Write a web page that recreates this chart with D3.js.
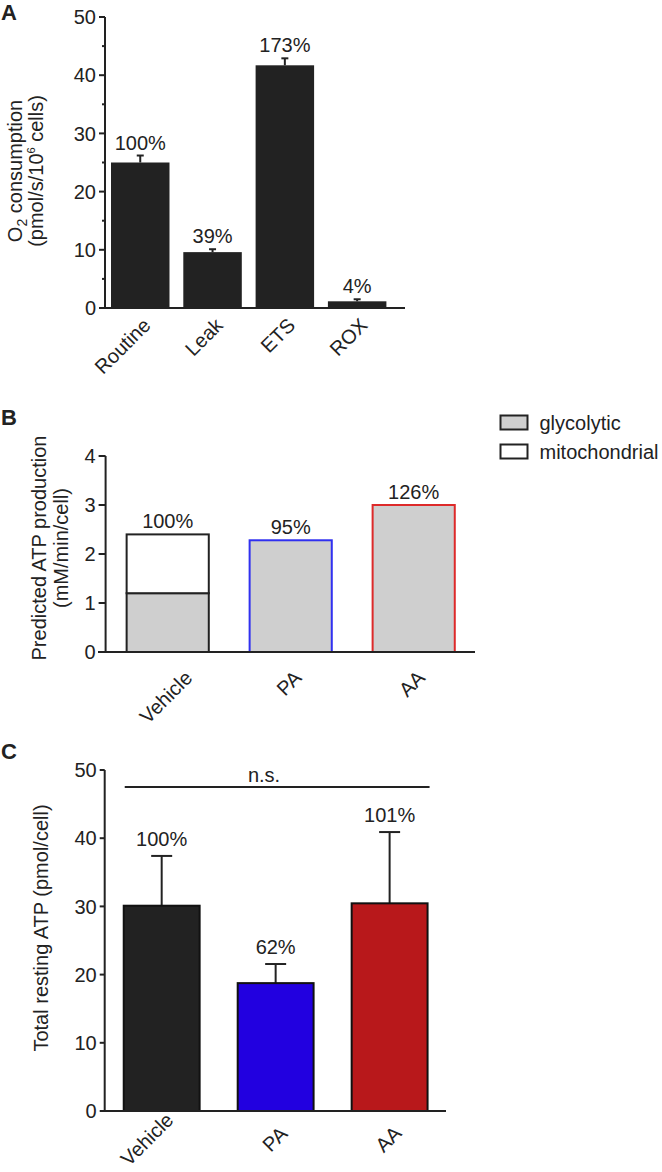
<!DOCTYPE html>
<html>
<head>
<meta charset="utf-8">
<script src="https://cdn.jsdelivr.net/npm/d3@7"></script>
<style>
  html, body { margin: 0; padding: 0; background: #fff; }
  svg { display: block; }
  text { font-family: "Liberation Sans", Arial, Helvetica, sans-serif; fill: #222; }
</style>
</head>
<body>
<svg id="chart" width="662" height="1172"></svg>
<script>
// ---------- Data ----------
// Panel A
const catsA = ["Routine", "Leak", "ETS", "ROX"];
const valsA = [25.0, 9.6, 41.7, 1.15];
const errA  = [1.2, 0.5, 1.2, 0.35];
const pctA  = ["100%", "39%", "173%", "4%"];
const ticksA = [0, 10, 20, 30, 40, 50];

// Panel B
const catsB = ["Vehicle", "PA", "AA"];
const glycoB = [1.2, 2.28, 3.0];
const mitoB  = [1.2, 0, 0];
const pctB   = ["100%", "95%", "126%"];
const strokeB = ["#222222", "#3030f0", "#dd2a2a"];
const ticksB = [0, 1, 2, 3, 4];
const legendB = ["glycolytic", "mitochondrial"];

// Panel C
const catsC = ["Vehicle", "PA", "AA"];
const valsC = [30.1, 18.75, 30.45];
const errC  = [7.3, 2.8, 10.45];
const pctC  = ["100%", "62%", "101%"];
const fillC = ["#222222", "#2200e0", "#b8181b"];
const ticksC = [0, 10, 20, 30, 40, 50];
const sigC = "n.s.";

// ---------- Setup ----------
const svg = d3.select("#chart");
const FS = 20;
const INK = "#222";

function yAxis(g, scale, ticks, minor, tickLen) {
  g.append("line").attr("x1", 0).attr("x2", 0)
    .attr("y1", scale(ticks[0]) + 1).attr("y2", scale(ticks[ticks.length - 1]))
    .attr("stroke", INK).attr("stroke-width", 2);
  ticks.forEach(t => {
    g.append("line").attr("x1", -tickLen).attr("x2", 0)
      .attr("y1", scale(t)).attr("y2", scale(t)).attr("stroke", INK).attr("stroke-width", 2);
    g.append("text").attr("x", -tickLen - 3).attr("y", scale(t)).attr("dy", "0.36em")
      .attr("text-anchor", "end").attr("font-size", FS).text(t);
  });
  (minor || []).forEach(t => {
    g.append("line").attr("x1", -3).attr("x2", 0)
      .attr("y1", scale(t)).attr("y2", scale(t)).attr("stroke", INK).attr("stroke-width", 2);
  });
}

// ---------- Panel A ----------
(function () {
  const y = d3.scaleLinear().domain([0, 50]).range([308, 17]);
  const x = d3.scaleBand().domain(catsA).range([105, 392.4]).paddingInner(0.191).paddingOuter(0.083);
  const g = svg.append("g");
  g.append("text").attr("x", 1).attr("y", 20).attr("font-size", 22).attr("font-weight", "bold").text("A");

  const ax = g.append("g").attr("transform", "translate(105,0)");
  yAxis(ax, y, ticksA, [5, 15, 25, 35, 45], 6);
  g.append("line").attr("x1", 104).attr("x2", 405).attr("y1", y(0)).attr("y2", y(0))
    .attr("stroke", INK).attr("stroke-width", 2);

  catsA.forEach((c, i) => {
    const cx = x(c) + x.bandwidth() / 2;
    g.append("rect").attr("x", x(c)).attr("width", x.bandwidth())
      .attr("y", y(valsA[i])).attr("height", y(0) - y(valsA[i]) - 1).attr("fill", "#222");
    g.append("line").attr("x1", cx).attr("x2", cx).attr("y1", y(valsA[i]))
      .attr("y2", y(valsA[i] + errA[i])).attr("stroke", INK).attr("stroke-width", 2);
    g.append("line").attr("x1", cx - 3.5).attr("x2", cx + 3.5).attr("y1", y(valsA[i] + errA[i]))
      .attr("y2", y(valsA[i] + errA[i])).attr("stroke", INK).attr("stroke-width", 2);
    g.append("text").attr("x", cx).attr("y", y(valsA[i] + errA[i]) - 6)
      .attr("text-anchor", "middle").attr("font-size", FS).text(pctA[i]);
    g.append("text").attr("transform", `translate(${cx + 1},316) rotate(-45)`)
      .attr("dy", "0.75em").attr("text-anchor", "end").attr("font-size", FS).text(c);
  });

  const t = g.append("text").attr("transform", "translate(0,171) rotate(-90)")
    .attr("text-anchor", "middle").attr("font-size", FS);
  const l1 = t.append("tspan").attr("x", 0).attr("y", 22);
  l1.append("tspan").text("O");
  l1.append("tspan").attr("font-size", 14).attr("dy", 5).text("2");
  l1.append("tspan").attr("dy", -5).text(" consumption");
  const l2 = t.append("tspan").attr("x", 0).attr("y", 43);
  l2.append("tspan").text("(pmol/s/10");
  l2.append("tspan").attr("font-size", 11).attr("dy", -8).text("6");
  l2.append("tspan").attr("dy", 8).text(" cells)");
})();

// ---------- Panel B ----------
(function () {
  const y = d3.scaleLinear().domain([0, 4]).range([652, 456]);
  const x = d3.scaleBand().domain(catsB).range([105.6, 475.8]).paddingInner(0.332).paddingOuter(0.171);
  const g = svg.append("g");
  g.append("text").attr("x", 1).attr("y", 425).attr("font-size", 22).attr("font-weight", "bold").text("B");

  catsB.forEach((c, i) => {
    const cx = x(c) + x.bandwidth() / 2;
    const total = glycoB[i] + mitoB[i];
    g.append("rect").attr("x", x(c)).attr("width", x.bandwidth())
      .attr("y", y(glycoB[i])).attr("height", y(0) - y(glycoB[i]))
      .attr("fill", "#cfcfcf").attr("stroke", strokeB[i]).attr("stroke-width", 2);
    if (mitoB[i] > 0) {
      g.append("rect").attr("x", x(c)).attr("width", x.bandwidth())
        .attr("y", y(total)).attr("height", y(glycoB[i]) - y(total))
        .attr("fill", "#fff").attr("stroke", strokeB[i]).attr("stroke-width", 2);
    }
    g.append("text").attr("x", cx).attr("y", y(total) - 6)
      .attr("text-anchor", "middle").attr("font-size", FS).text(pctB[i]);
    const lab = g.append("text").attr("text-anchor", "middle").attr("dy", "0.36em")
      .attr("font-size", FS).text(c);
    const w = lab.node().getComputedTextLength();
    const half = (w + 14.3) * 0.3536;
    lab.attr("transform", `translate(${cx - 2},${669 + half}) rotate(-45)`);
  });

  const ax = g.append("g").attr("transform", "translate(105.6,0)");
  yAxis(ax, y, ticksB, null, 7);
  g.append("line").attr("x1", 98).attr("x2", 475).attr("y1", y(0)).attr("y2", y(0))
    .attr("stroke", INK).attr("stroke-width", 2);

  const t = g.append("text").attr("transform", "translate(0,548) rotate(-90)")
    .attr("text-anchor", "middle").attr("font-size", FS);
  t.append("tspan").attr("x", 0).attr("y", 46).text("Predicted ATP production");
  t.append("tspan").attr("x", 0).attr("y", 68).text("(mM/min/cell)");

  // Legend
  const legFill = ["#cfcfcf", "#fff"];
  legendB.forEach((s, i) => {
    g.append("rect").attr("x", 500.5).attr("y", 415.5 + i * 29).attr("width", 27).attr("height", 14)
      .attr("fill", legFill[i]).attr("stroke", INK).attr("stroke-width", 2);
    g.append("text").attr("x", 539.5).attr("y", 422.5 + i * 29).attr("dy", "0.36em")
      .attr("font-size", FS).text(s);
  });
})();

// ---------- Panel C ----------
(function () {
  const y = d3.scaleLinear().domain([0, 50]).range([1111, 770]);
  const x = d3.scaleBand().domain(catsC).range([104.7, 446.6]).paddingInner(0.334).paddingOuter(0.167);
  const g = svg.append("g");
  g.append("text").attr("x", 1).attr("y", 759).attr("font-size", 22).attr("font-weight", "bold").text("C");

  catsC.forEach((c, i) => {
    const cx = x(c) + x.bandwidth() / 2;
    const top = y(valsC[i] + errC[i]);
    g.append("line").attr("x1", cx).attr("x2", cx).attr("y1", y(valsC[i])).attr("y2", top)
      .attr("stroke", INK).attr("stroke-width", 2);
    g.append("line").attr("x1", cx - 10.5).attr("x2", cx + 10.5).attr("y1", top).attr("y2", top)
      .attr("stroke", INK).attr("stroke-width", 2);
    g.append("rect").attr("x", x(c)).attr("width", x.bandwidth())
      .attr("y", y(valsC[i])).attr("height", y(0) - y(valsC[i]))
      .attr("fill", fillC[i]).attr("stroke", "#111").attr("stroke-width", 2);
    g.append("text").attr("x", cx).attr("y", top - 10)
      .attr("text-anchor", "middle").attr("font-size", FS).text(pctC[i]);
    const lab = g.append("text").attr("text-anchor", "middle").attr("dy", "0.36em")
      .attr("font-size", FS).text(c);
    const w = lab.node().getComputedTextLength();
    const half = (w + 14.3) * 0.3536;
    lab.attr("transform", `translate(${cx + 13 - half},1139) rotate(-45)`);
  });

  const ax = g.append("g").attr("transform", "translate(104.7,0)");
  yAxis(ax, y, ticksC, null, 5);
  g.append("line").attr("x1", 100).attr("x2", 446).attr("y1", y(0)).attr("y2", y(0))
    .attr("stroke", INK).attr("stroke-width", 2);

  // significance bar
  const x0 = x(catsC[0]), x1 = x(catsC[2]) + x.bandwidth();
  g.append("line").attr("x1", x0 + 1).attr("x2", x1 + 2).attr("y1", 787).attr("y2", 787)
    .attr("stroke", INK).attr("stroke-width", 2);
  g.append("text").attr("x", 264).attr("y", 782).attr("text-anchor", "middle")
    .attr("font-size", FS).text(sigC);

  g.append("text").attr("transform", "translate(48,928) rotate(-90)")
    .attr("text-anchor", "middle").attr("font-size", FS).text("Total resting ATP (pmol/cell)");
})();
</script>
</body>
</html>
